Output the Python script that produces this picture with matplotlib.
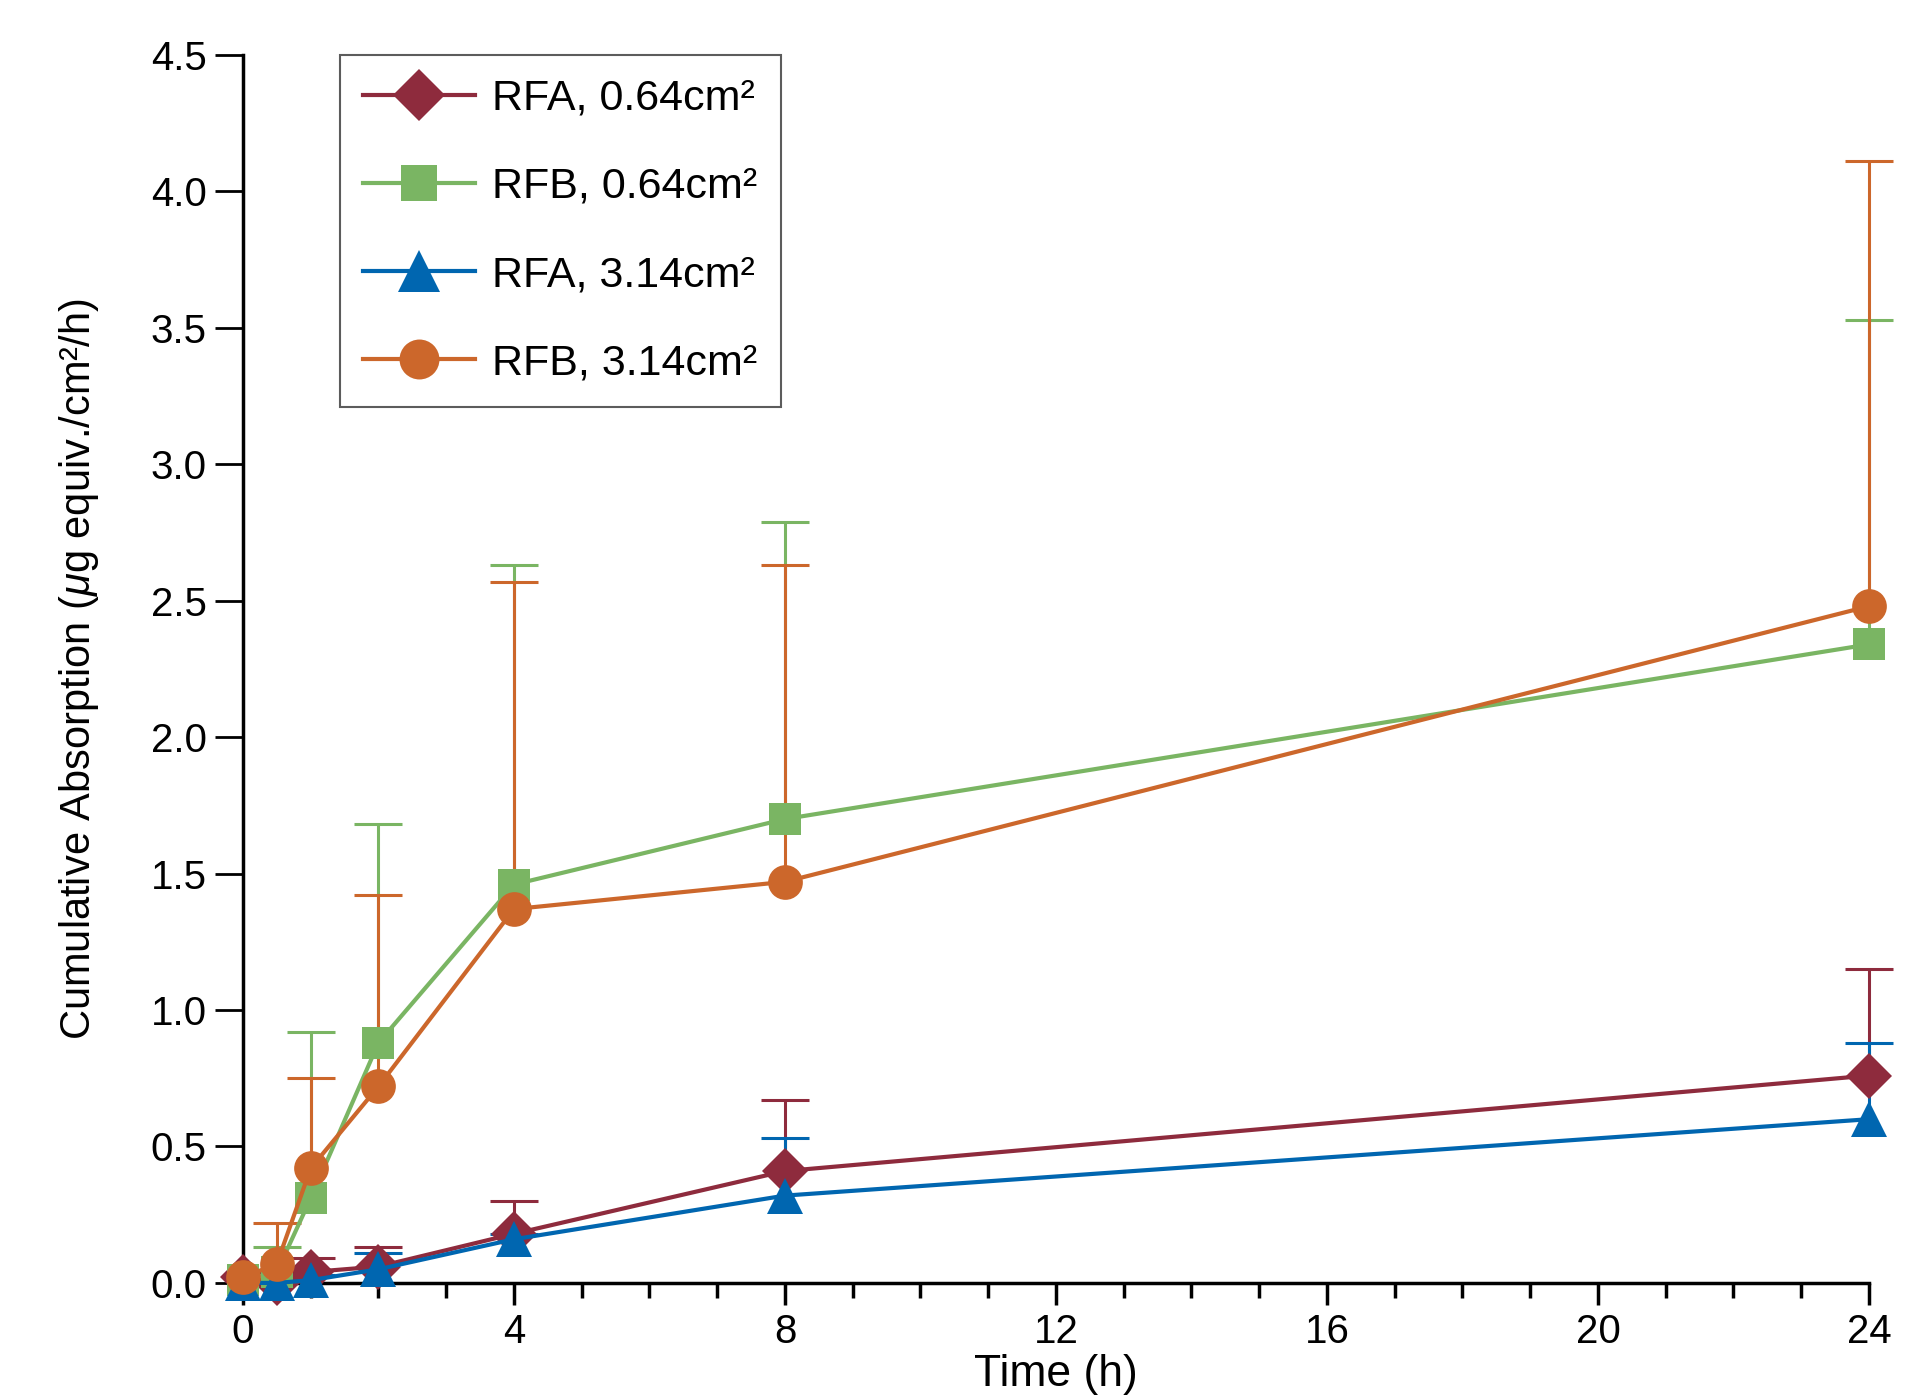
import numpy as np
import matplotlib
matplotlib.use('Agg')
import matplotlib.pyplot as plt
from matplotlib.ticker import MultipleLocator, FormatStrFormatter

plt.rcParams['font.family'] = ['Liberation Sans', 'DejaVu Sans']
plt.rcParams['mathtext.fontset'] = 'custom'
plt.rcParams['mathtext.it'] = 'Liberation Sans:italic'
plt.rcParams['mathtext.rm'] = 'Liberation Sans'

# time points (h)
time_h = [0, 0.5, 1, 2, 4, 8, 24]

# cumulative absorption means and upper error bars
rfa_064 = [0.02, 0.0, 0.04, 0.06, 0.18, 0.41, 0.76]
rfa_064_err = [0.0, 0.0, 0.05, 0.07, 0.12, 0.26, 0.39]

rfb_064 = [0.01, 0.04, 0.31, 0.88, 1.46, 1.70, 2.34]
rfb_064_err = [0.0, 0.09, 0.61, 0.80, 1.17, 1.09, 1.19]

rfa_314 = [0.0, 0.0, 0.01, 0.05, 0.16, 0.32, 0.60]
rfa_314_err = [0.0, 0.0, 0.02, 0.06, 0.02, 0.21, 0.28]

rfb_314 = [0.02, 0.07, 0.42, 0.72, 1.37, 1.47, 2.48]
rfb_314_err = [0.0, 0.15, 0.33, 0.70, 1.20, 1.16, 1.63]

series = [
    ('RFA, 0.64cm²', rfa_064, rfa_064_err, '#8e2b3d', 'D', 23),
    ('RFB, 0.64cm²', rfb_064, rfb_064_err, '#7ab563', 's', 23),
    ('RFA, 3.14cm²', rfa_314, rfa_314_err, '#0066b0', '^', 26),
    ('RFB, 3.14cm²', rfb_314, rfb_314_err, '#cc672b', 'o', 25),
]

fig = plt.figure(figsize=(19.22, 13.96), dpi=100)
ax = fig.add_axes([0.1264, 0.0810, 0.846, 0.8796])

handles = []
for label, y, err, color, marker, ms in series:
    y = np.array(y)
    err = np.array(err)
    keep = err > 0
    x_e = np.array(time_h)[keep]
    eb = ax.errorbar(x_e, y[keep], yerr=[np.zeros(keep.sum()), err[keep]],
                     fmt='none', ecolor=color, elinewidth=2.2, capsize=17,
                     capthick=2.2, clip_on=False, zorder=2)
    # upper error only: hide the lower caps
    eb[1][0].set_visible(False)
    h, = ax.plot(time_h, y, color=color, marker=marker, markersize=ms,
                 linewidth=3, markeredgewidth=0, clip_on=False, zorder=3,
                 label=label)
    handles.append(h)

ax.set_xlim(0, 24)
ax.set_ylim(0, 4.5)
ax.xaxis.set_major_locator(MultipleLocator(4))
ax.xaxis.set_minor_locator(MultipleLocator(1))
ax.yaxis.set_major_locator(MultipleLocator(0.5))
ax.yaxis.set_major_formatter(FormatStrFormatter('%.1f'))

for side in ['top', 'right']:
    ax.spines[side].set_visible(False)
for side in ['left', 'bottom']:
    ax.spines[side].set_linewidth(2.5)
    ax.spines[side].set_zorder(1)

ax.tick_params(axis='y', which='major', length=20, width=2, labelsize=29, pad=6)
ax.tick_params(axis='x', which='major', length=16, width=2.5, labelsize=29, pad=6)
ax.tick_params(axis='x', which='minor', length=11, width=2.5)

ax.set_xlabel('Time (h)', fontsize=32, labelpad=2)
ax.set_ylabel('Cumulative Absorption ($\\mu$g equiv./cm²/h)', fontsize=30,
              labelpad=36)

leg = ax.legend(handles=handles, loc='upper left', bbox_to_anchor=(0.0594, 1.0),
                borderaxespad=0, fontsize=31, frameon=True, fancybox=False,
                edgecolor='#333333', handlelength=2.6, labelspacing=1.12,
                borderpad=0.55, handletextpad=0.4, markerscale=1.15)
leg.get_frame().set_linewidth(1.5)

fig.savefig('out.png', dpi=100)
